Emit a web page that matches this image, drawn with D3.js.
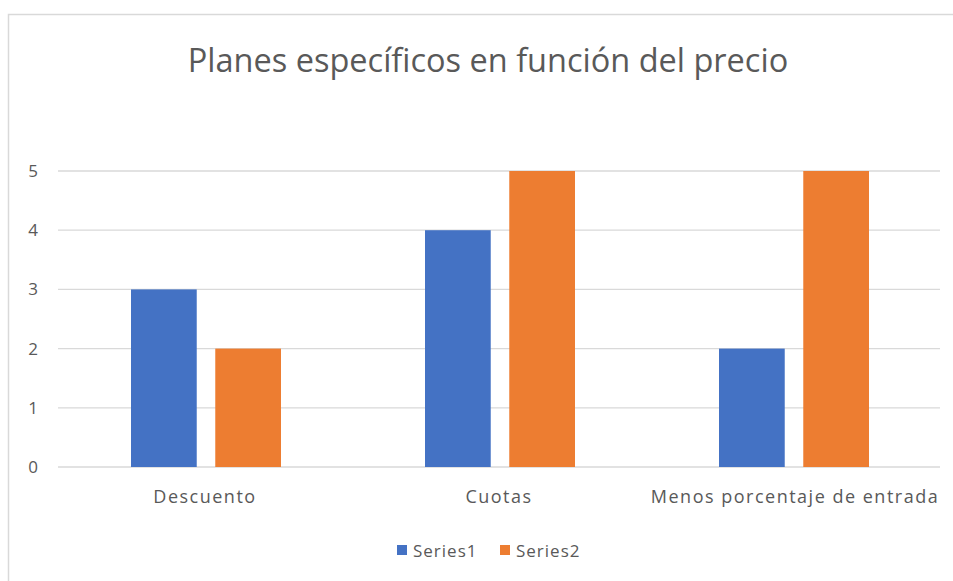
<!DOCTYPE html>
<html>
<head>
<meta charset="utf-8">
<script src="https://cdn.jsdelivr.net/npm/d3@7"></script>
<style>
  html, body { margin: 0; padding: 0; background: #fff; }
  svg { display: block; }
  text { font-family: "Open Sans", "Noto Sans", sans-serif; fill: #595959; }
</style>
</head>
<body>
<svg id="chart" width="953" height="581"></svg>
<script>
const categories = ["Descuento", "Cuotas", "Menos porcentaje de entrada"];
const seriesNames = ["Series1", "Series2"];
const series1 = [3, 4, 2];
const series2 = [2, 5, 5];
const yTicks = [0, 1, 2, 3, 4, 5];
const colors = ["#4472C4", "#ED7D31"];

const svg = d3.select("#chart");
const W = 953, H = 581;

// chart frame
svg.append("rect")
  .attr("x", 8.5).attr("y", 14.5)
  .attr("width", W + 10).attr("height", H + 10)
  .attr("fill", "none").attr("stroke", "#d9d9d9").attr("stroke-width", 1.5);

const plot = { left: 58, right: 940, top: 171, bottom: 467 };

const x0 = d3.scaleBand().domain(categories).range([plot.left, plot.right]).padding(0);
const groupW = 150;
const x1 = d3.scaleBand().domain(seriesNames)
  .range([0, groupW]).paddingInner(0.22).paddingOuter(0);
const y = d3.scaleLinear().domain([0, 5]).range([plot.bottom, plot.top]);

// gridlines
svg.append("g").selectAll("line").data(yTicks).join("line")
  .attr("x1", plot.left).attr("x2", plot.right)
  .attr("y1", d => y(d)).attr("y2", d => y(d))
  .attr("stroke", "#d9d9d9").attr("stroke-width", 1.3);

// y tick labels
svg.append("g").selectAll("text").data(yTicks).join("text")
  .attr("x", 33).attr("y", d => y(d))
  .attr("dy", "0.35em").attr("text-anchor", "middle")
  .style("font-size", "17px")
  .text(d => d);

// bars
const rows = categories.map((c, i) => ({ cat: c, vals: [series1[i], series2[i]] }));
const groups = svg.append("g").selectAll("g").data(rows).join("g")
  .attr("transform", d => `translate(${x0(d.cat) + x0.bandwidth() / 2 - groupW / 2 + 1},0)`);
groups.selectAll("rect")
  .data(d => d.vals.map((v, j) => ({ name: seriesNames[j], v, j })))
  .join("rect")
  .attr("x", d => x1(d.name))
  .attr("width", x1.bandwidth())
  .attr("y", d => y(d.v))
  .attr("height", d => y(0) - y(d.v))
  .attr("fill", d => colors[d.j]);

// category labels
svg.append("g").selectAll("text").data(categories).join("text")
  .attr("x", (d, i) => i === 2 ? 795 : x0(d) + x0.bandwidth() / 2)
  .attr("y", 503)
  .attr("text-anchor", "middle")
  .style("font-size", "18px")
  .style("letter-spacing", "1.5px")
  .text(d => d);

// title
svg.append("text")
  .attr("x", 488).attr("y", 72)
  .attr("text-anchor", "middle")
  .style("font-size", "32.5px")
  .text("Planes específicos en función del precio");

// legend
const legend = svg.append("g");
const legendX = [397, 500];
seriesNames.forEach((s, i) => {
  legend.append("rect")
    .attr("x", legendX[i]).attr("y", 545)
    .attr("width", 10).attr("height", 10)
    .attr("fill", colors[i]);
  legend.append("text")
    .attr("x", legendX[i] + 16).attr("y", 557)
    .style("font-size", "17px")
    .style("letter-spacing", "1px")
    .text(s);
});
</script>
</body>
</html>
